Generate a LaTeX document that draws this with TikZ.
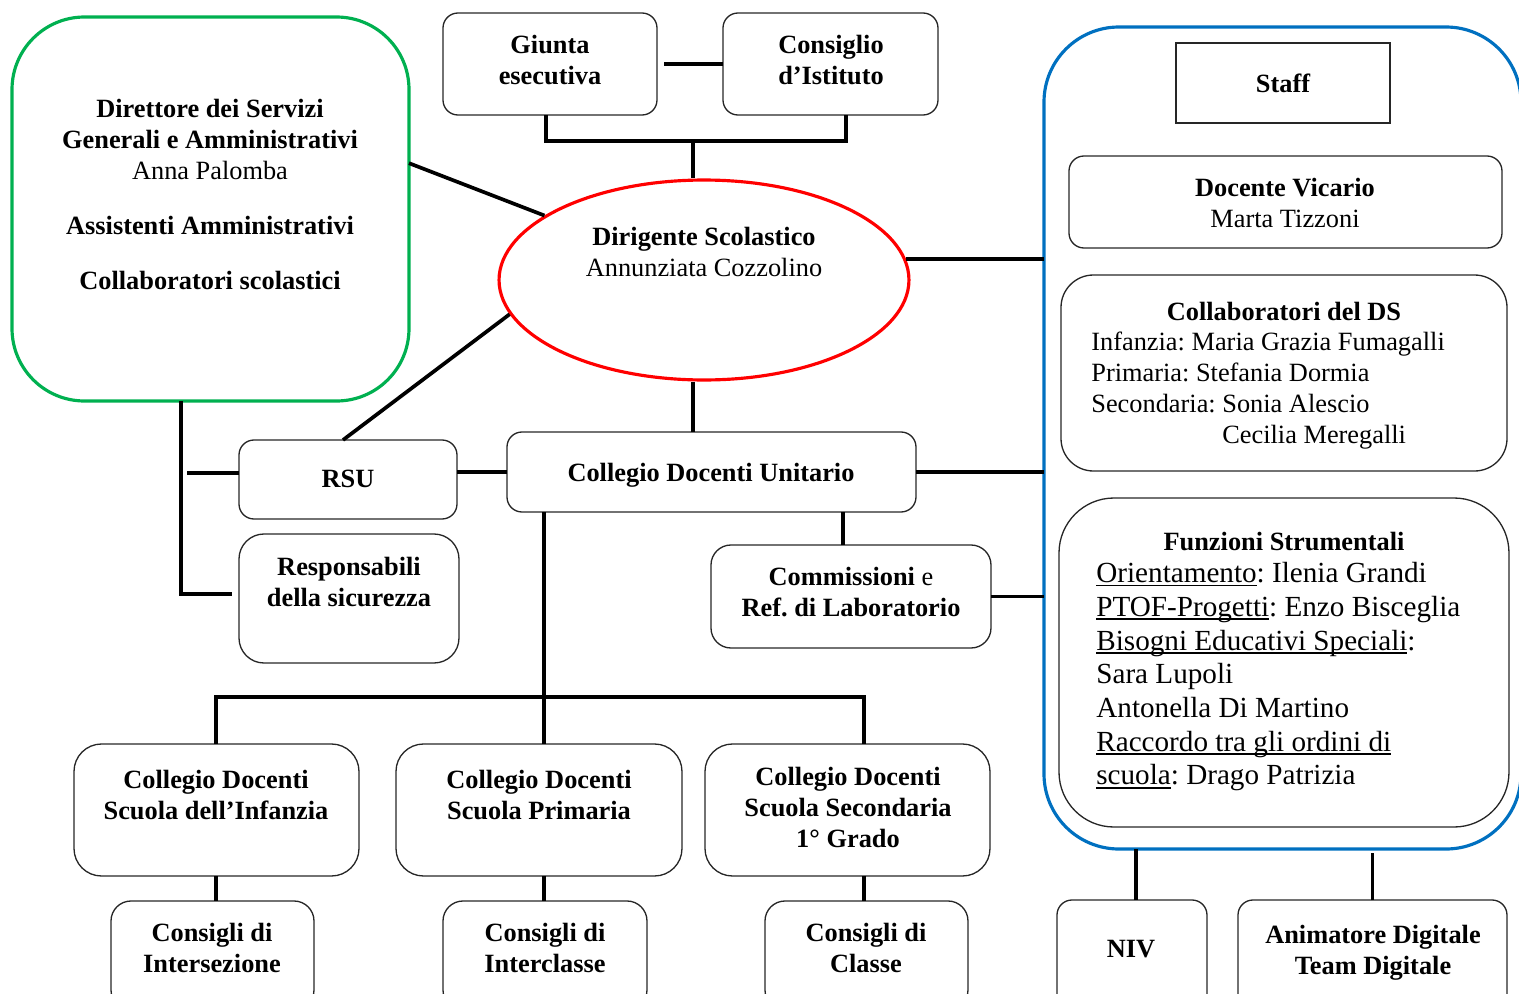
\documentclass[tikz,border=0pt]{standalone}
\usepackage{fontspec}
\setmainfont{Liberation Serif}
\usetikzlibrary{shapes.geometric}
\definecolor{dgreen}{RGB}{0,176,80}
\definecolor{dblue}{RGB}{0,112,192}
\definecolor{dred}{RGB}{255,0,0}
\newcommand{\undl}[1]{\leavevmode\setbox0=\hbox{#1}\rlap{\rule[-2pt]{\wd0}{0.9pt}}\box0}
\newcommand{\orgbox}[6][]{\node[bx,#1,minimum width={(#4-#2)*0.02cm},minimum height={(#5-#3)*0.02cm}] (#6) at (#2,#3) {};}
\frenchspacing
\begin{document}
\frenchspacing
\begin{tikzpicture}[x=0.02cm,y=-0.02cm,
  every node/.style={font=\fontsize{15}{17.5}\selectfont},
  bx/.style={draw=black!85,line width=0.75pt,inner sep=0pt,outer sep=0pt,anchor=north west,rounded corners=0.3cm},
  conn/.style={line width=2.1pt},
  lbl/.style={align=center,inner sep=0pt,anchor=north},
  bl/.style={lbl,font=\fontsize{15}{17.5}\selectfont\bfseries},
  lbll/.style={align=left,inner sep=0pt,anchor=north west}]
\clip (0,0) rectangle (1519,994);
% boxes
\orgbox[draw=dgreen,line width=1.8pt,rounded corners=1.45cm]{12}{17}{409}{401}{adm}
\orgbox{443}{13}{657}{115}{gi}
\orgbox{723}{13}{938}{115}{ci}
\node[draw=dred,line width=1.8pt,ellipse,minimum width=8.2cm,minimum height=4cm,inner sep=0pt] (ds) at (704,280) {};
\orgbox[draw=dblue,line width=1.8pt,rounded corners=1.5cm]{1044}{27}{1521}{849}{sb}
\orgbox[sharp corners]{1176}{43}{1390}{123}{st}
\orgbox{1069}{156}{1502}{248}{vic}
\orgbox[rounded corners=0.65cm]{1061}{275}{1507}{471}{cds}
\orgbox[rounded corners=1.1cm]{1059}{498}{1509}{827}{fs}
\orgbox{1057}{900}{1207}{1010}{niv}
\orgbox{1238}{900}{1507}{1010}{ad}
\orgbox{239}{440}{457}{519}{rsu}
\orgbox[rounded corners=0.5cm]{239}{534}{459}{663}{resp}
\orgbox{507}{432}{916}{512}{cdu}
\orgbox[rounded corners=0.4cm]{711}{545}{991}{648}{com}
\orgbox[rounded corners=0.55cm]{74}{744}{359}{876}{inf}
\orgbox[rounded corners=0.55cm]{396}{744}{682}{876}{pri}
\orgbox[rounded corners=0.55cm]{705}{744}{990}{876}{sec}
\orgbox[rounded corners=0.4cm]{111}{901}{314}{1010}{cis}
\orgbox[rounded corners=0.4cm]{443}{901}{647}{1010}{cic}
\orgbox[rounded corners=0.4cm]{765}{901}{968}{1010}{ccl}
% texts
\node[lbl] (tadm) at (210,99) {\textbf{Direttore dei Servizi}\\\textbf{Generali e Amministrativi}\\Anna Palomba\\[14pt]\textbf{Assistenti Amministrativi}\\[14pt]\textbf{Collaboratori scolastici}};
\node[bl] (tgi) at (550,35) {Giunta\\esecutiva};
\node[bl] (tci) at (831,35) {Consiglio\\d’Istituto};
\node[lbl] (tds) at (704,227) {\textbf{Dirigente Scolastico}\\Annunziata Cozzolino};
\node[bl] (tst) at (1283,74) {Staff};
\node[lbl] (tvic) at (1285,178) {\textbf{Docente Vicario}\\Marta Tizzoni};
\node[bl] (tcdsh) at (1284,302) {Collaboratori del DS};
\node[lbll] (tcds) at (1091,332) {Infanzia: Maria Grazia Fumagalli\\Primaria: Stefania Dormia\\Secondaria: Sonia Alescio\\\hphantom{Secondaria: }Cecilia Meregalli};
\node[bl] (tfsh) at (1284,532) {Funzioni Strumentali};
\node[lbll,font=\fontsize{16.6}{19.2}\selectfont] (tfs) at (1096,562) {\undl{Orientamento}: Ilenia Grandi\\\undl{PTOF-Progetti}: Enzo Bisceglia\\\undl{Bisogni Educativi Speciali}:\\Sara Lupoli\\Antonella Di Martino\\\undl{Raccordo tra gli ordini di}\\\undl{scuola}: Drago Patrizia};
\node[bl] (tniv) at (1131,940) {NIV};
\node[bl] (tad) at (1373,925) {Animatore Digitale\\Team Digitale};
\node[bl] (trsu) at (348,470) {RSU};
\node[bl] (tresp) at (349,557) {Responsabili\\della sicurezza};
\node[bl] (tcdu) at (711,463) {Collegio Docenti Unitario};
\node[lbl] (tcom) at (851,567) {\textbf{Commissioni} e\\\textbf{Ref. di Laboratorio}};
\node[bl] (tinf) at (216,770) {Collegio Docenti\\Scuola dell’Infanzia};
\node[bl] (tpri) at (539,770) {Collegio Docenti\\Scuola Primaria};
\node[bl] (tsec) at (848,767) {Collegio Docenti\\Scuola Secondaria\\1° Grado};
\node[bl] (tcis) at (212,923) {Consigli di\\Intersezione};
\node[bl] (tcic) at (545,923) {Consigli di\\Interclasse};
\node[bl] (tccl) at (866,923) {Consigli di\\Classe};
% connectors
\coordinate (g1) at (546,141);
\coordinate (g2) at (846,141);
\coordinate (g0) at (693,141);
\draw[conn] ([xshift=0.14cm]gi.east) -- (ci.west);
\draw[conn,line join=miter] (gi.south -| g1) -- (g1) -- (g2) -- (ci.south -| g2);
\draw[conn] (g0) -- (ds.north -| g0);
\draw[conn] (adm.13) -- (ds.158);
\draw[conn] (ds.190) -- ([xshift=-0.1cm]rsu.north);
\draw[conn] (ds.6) -- (ds.6 -| sb.west);
\draw[conn] (ds.south -| g0) -- (cdu.north -| g0);
\coordinate (lv) at (181,594);
\draw[conn,line join=miter] (adm.south -| lv) -- (lv) -- ([xshift=-0.14cm]lv -| resp.west);
\coordinate (rl) at (187,473);
\draw[conn] (rl) -- (rl -| rsu.west);
\draw[conn] (cdu.west -| rsu.east) -- (cdu.west);
\draw[conn] (cdu.east) -- (cdu.east -| sb.west);
\draw[conn] ([xshift=-0.16cm]com.north) -- ([xshift=-0.16cm]com.north |- cdu.south);
\draw[conn] (com.east) -- (com.east -| sb.west);
\coordinate (bus) at (544,697);
\coordinate (b1) at (216,697);
\coordinate (b3) at (864,697);
\draw[conn] (cdu.south -| bus) -- (bus |- pri.north);
\draw[conn,line join=miter] (b1 |- inf.north) -- (b1) -- (b3) -- (b3 |- sec.north);
\draw[conn] (b1 |- inf.south) -- (b1 |- cis.north);
\draw[conn] (bus |- pri.south) -- (bus |- cic.north);
\draw[conn] (b3 |- sec.south) -- (b3 |- ccl.north);
\draw[conn] ([xshift=0.08cm]niv.north) -- ([xshift=0.08cm]niv.north |- sb.south);
\draw[conn] (ad.north) -- ([yshift=-0.08cm]ad.north |- sb.south);
\end{tikzpicture}
\end{document}
